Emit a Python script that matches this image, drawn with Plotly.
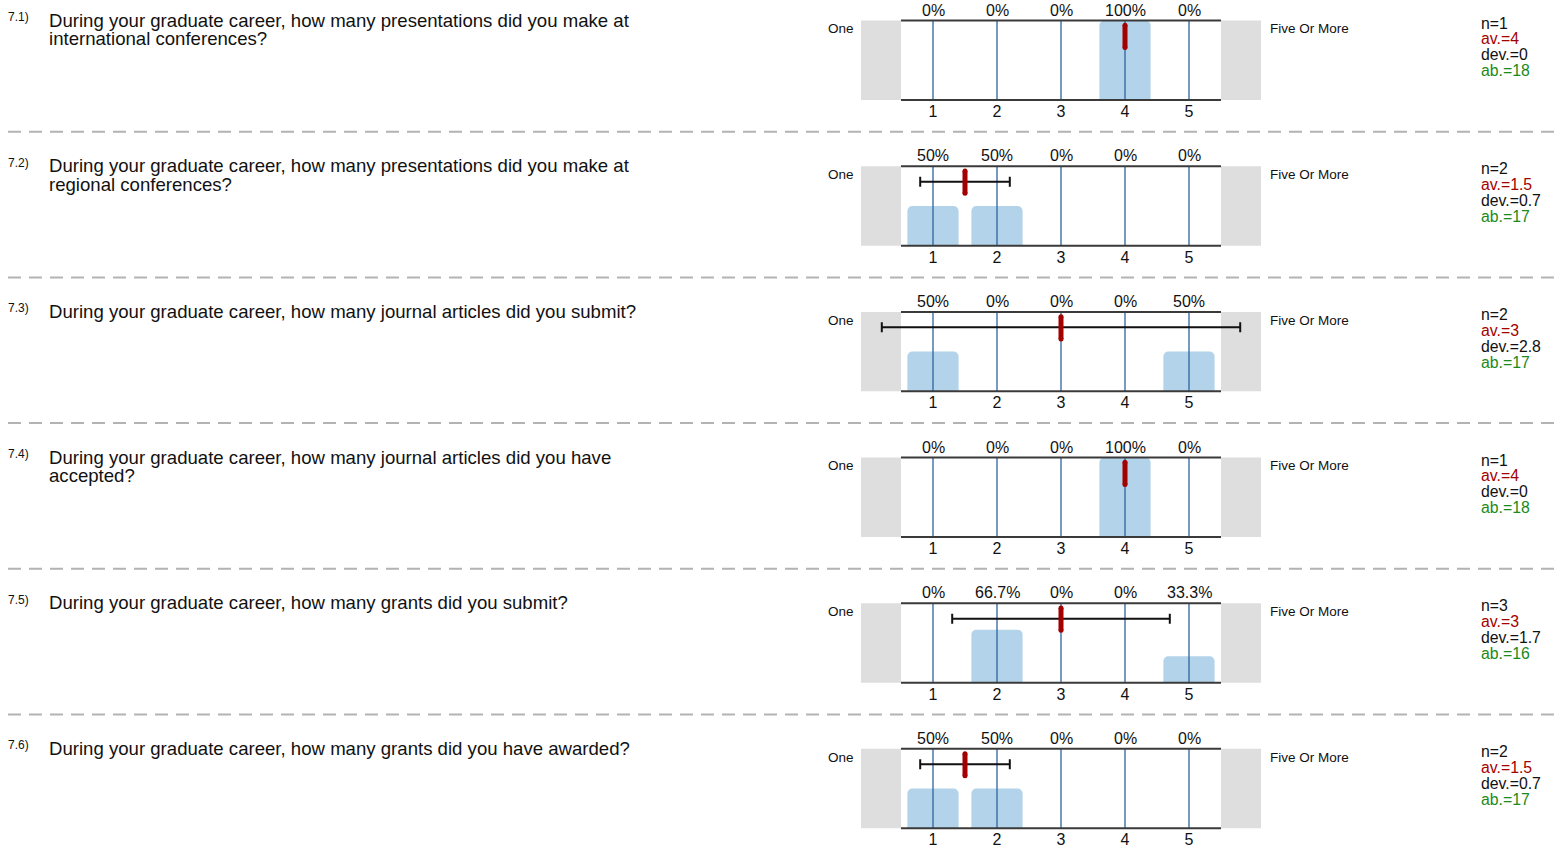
import plotly.graph_objects as go

# ---- survey data -------------------------------------------------------
numbers = ["7.1)", "7.2)", "7.3)", "7.4)", "7.5)", "7.6)"]
questions = [
    ["During your graduate career, how many presentations did you make at",
     "international conferences?"],
    ["During your graduate career, how many presentations did you make at",
     "regional conferences?"],
    ["During your graduate career, how many journal articles did you submit?"],
    ["During your graduate career, how many journal articles did you have",
     "accepted?"],
    ["During your graduate career, how many grants did you submit?"],
    ["During your graduate career, how many grants did you have awarded?"],
]
scale = [1, 2, 3, 4, 5]
left_label = "One"
right_label = "Five Or More"
percents = [
    [0, 0, 0, 100, 0],
    [50, 50, 0, 0, 0],
    [50, 0, 0, 0, 50],
    [0, 0, 0, 100, 0],
    [0, 66.7, 0, 0, 33.3],
    [50, 50, 0, 0, 0],
]
n_resp = [1, 2, 2, 1, 3, 2]
means = [4, 1.5, 3, 4, 3, 1.5]
devs = [0, 0.7, 2.8, 0, 1.7, 0.7]
abstain = [18, 17, 17, 18, 16, 17]

# ---- styling -----------------------------------------------------------
W, H = 1556, 848
FONT = "Liberation Sans, Arial, sans-serif"
BAR = "#b3d3ea"
GRID = "#2c63a0"
MEAN = "#a30000"
FRAME = "#3a3a3a"
SIDE = "#dedede"
GREEN = "#1a8a1a"
INK = "#111111"

ROW_TOP0 = 20.7     # pixel y of the first panel's top edge
ROW_STEP = 146.7    # vertical distance between rows
PANEL_H = 80.0
X0_PX, X1_PX = 861, 1261
XRANGE = [-0.125, 6.125]


def py(px):
    """pixel y -> paper y"""
    return 1 - px / H


def pxx(px):
    """pixel x -> paper x"""
    return px / W


def label(x, y, text, size, color=INK, anchor="left"):
    return dict(x=pxx(x), y=py(y), xref="paper", yref="paper", text=text,
                showarrow=False, xanchor=anchor, yanchor="middle",
                borderpad=0, font=dict(size=size, color=color))


fig = go.Figure()
layout = dict(
    width=W, height=H,
    margin=dict(l=0, r=0, t=0, b=0),
    paper_bgcolor="white", plot_bgcolor="white",
    font=dict(family=FONT, color=INK),
    showlegend=False,
    shapes=[], annotations=[],
)

for i in range(len(questions)):
    k = "" if i == 0 else str(i + 1)
    xa, ya = "x" + k, "y" + k
    top = ROW_TOP0 + ROW_STEP * i
    bottom = top + PANEL_H

    layout["xaxis" + k] = dict(
        domain=[pxx(X0_PX), pxx(X1_PX)], range=XRANGE, anchor=ya,
        tickvals=scale, ticktext=[str(v) for v in scale],
        showgrid=False, zeroline=False, showline=False, ticks="",
        tickfont=dict(size=16, color=INK), fixedrange=True,
    )
    layout["yaxis" + k] = dict(
        domain=[py(bottom), py(top)], range=[0, 1], anchor=xa,
        showgrid=False, zeroline=False, showticklabels=False,
        showline=False, fixedrange=True,
    )

    # grey end boxes
    for x0, x1 in [(0, 0.1), (0.9, 1)]:
        layout["shapes"].append(dict(
            type="rect", xref=xa + " domain", yref=ya + " domain",
            x0=x0, x1=x1, y0=0, y1=1, fillcolor=SIDE,
            line=dict(width=0), layer="below"))

    # top and bottom rules of the panel
    for yv in (0, 1):
        layout["shapes"].append(dict(
            type="line", xref=xa, yref=ya + " domain",
            x0=scale[0] - 0.5, x1=scale[-1] + 0.5, y0=yv, y1=yv,
            line=dict(color=FRAME, width=2), layer="above"))

    # distribution bars
    fig.add_trace(go.Bar(
        x=scale, y=[p / 100 for p in percents[i]], width=0.8,
        marker=dict(color=BAR, cornerradius=5, line=dict(width=0)),
        xaxis=xa, yaxis=ya, hoverinfo="skip"))

    # vertical scale lines drawn over the bars
    gx, gy = [], []
    for v in scale:
        gx += [v, v, None]
        gy += [0, 1, None]
    fig.add_trace(go.Scatter(
        x=gx, y=gy, mode="lines", line=dict(color=GRID, width=1.3),
        xaxis=xa, yaxis=ya, hoverinfo="skip"))

    # standard deviation whisker
    if devs[i] > 0:
        fig.add_trace(go.Scatter(
            x=[means[i]], y=[0.805], mode="markers",
            marker=dict(size=1, color="black", opacity=0),
            error_x=dict(type="data", array=[devs[i]], color=INK,
                         thickness=2, width=5),
            xaxis=xa, yaxis=ya, hoverinfo="skip"))

    # mean marker
    fig.add_trace(go.Scatter(
        x=[means[i], means[i]], y=[0.66, 0.94], mode="lines+markers",
        line=dict(color=MEAN, width=5),
        marker=dict(color=MEAN, size=5, symbol="circle"),
        xaxis=xa, yaxis=ya, hoverinfo="skip"))

    # percentage labels above each scale point
    for v, p in zip(scale, percents[i]):
        layout["annotations"].append(dict(
            x=v, y=1, xref=xa, yref=ya + " domain", yshift=10.5,
            text=f"{p:g}%", showarrow=False, xanchor="center",
            yanchor="middle", borderpad=0,
            font=dict(size=16, color=INK)))

    # question number and text
    layout["annotations"].append(label(7, top - 3.5, numbers[i], 12))
    for j, line in enumerate(questions[i]):
        layout["annotations"].append(label(47.5, top - 0.5 + 19 * j, line,
                                           18.6))

    # scale end labels
    layout["annotations"].append(label(854.5, top + 8.5, left_label, 13.5,
                                       anchor="right"))
    layout["annotations"].append(label(1268.5, top + 8.5, right_label, 13.5))

    # summary statistics
    stats = [
        (f"n={n_resp[i]}", INK),
        (f"av.={means[i]:g}", MEAN),
        (f"dev.={devs[i]:g}", INK),
        (f"ab.={abstain[i]}", GREEN),
    ]
    for j, (txt, col) in enumerate(stats):
        layout["annotations"].append(label(1479.5, top + 2.5 + 16 * j, txt,
                                           15.8, col))

    # dashed row separator
    if i < len(questions) - 1:
        ysep = top + 112
        layout["shapes"].append(dict(
            type="line", xref="paper", yref="paper",
            x0=pxx(8), x1=1, y0=py(ysep), y1=py(ysep),
            line=dict(color="#b3b3b3", width=2, dash="13px,8px")))

fig.update_layout(**layout)
fig.write_html("out.html")
